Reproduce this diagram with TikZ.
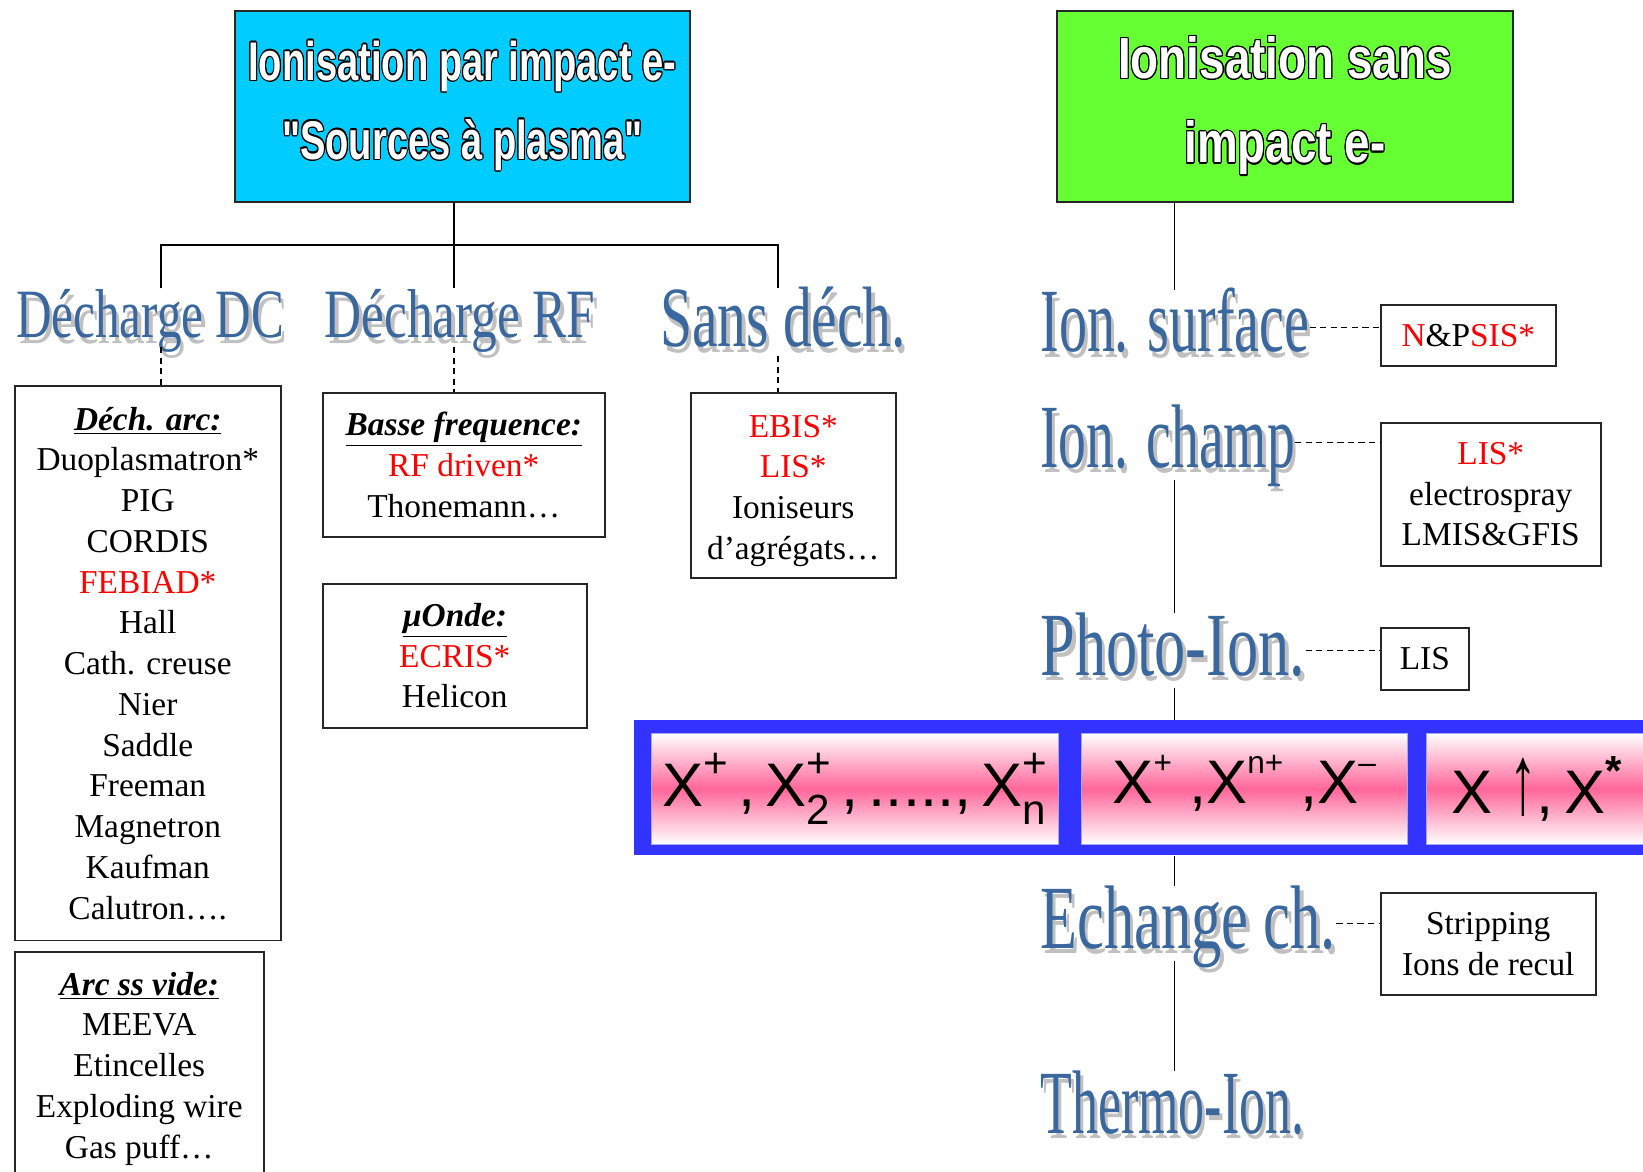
\documentclass[tikz,border=0pt]{standalone}
\usepackage{fontspec}
\setmainfont{Liberation Serif}
\newfontfamily\artfont{Liberation Sans}
\usepackage{contour}
\contourlength{0.8pt}
\definecolor{headblue}{RGB}{58,104,158}
\definecolor{shadowgray}{RGB}{192,192,192}
\definecolor{plasmablue}{RGB}{0,204,255}
\definecolor{nonegreen}{RGB}{102,255,51}
\definecolor{bandblue}{RGB}{51,51,255}
\definecolor{bandpink}{RGB}{255,102,153}
\definecolor{srcred}{RGB}{255,0,0}
\newcommand{\hd}[2]{\scalebox{#1}[1]{\rlap{\kern3pt\raisebox{-3pt}{\color{shadowgray}#2}}\color{headblue}#2}}
\newcommand{\wordart}[2]{\scalebox{#1}[1]{\contour{black}{#2}}}
\newcommand{\rt}[1]{\textcolor{srcred}{#1}}
\newcommand{\ttl}[1]{\underline{\textbf{\textit{#1}}}}
\newcommand{\ionx}[3]{X\hbox{\ooalign{\raisebox{0.48em}{\fontsize{#1}{#1}\selectfont#2}\cr\raisebox{-0.3em}{\fontsize{#1}{#1}\selectfont#3}\cr}}}

\begin{document}
\begin{tikzpicture}[x=0.02cm, y=-0.02cm,
  topbox/.style={draw=black!85, line width=1pt, anchor=north west, inner sep=0pt, align=center, text=white, minimum width=9.1cm, minimum height=3.82cm},
  listbox/.style={draw=black!85, line width=0.9pt, fill=white, anchor=north west, inner sep=5pt, align=center, font=\fontsize{19}{23.2}\selectfont},
  headL/.style={inner sep=0pt, anchor=base, text height=28pt, text depth=5pt, font=\fontsize{39.4}{40}\selectfont},
  headR/.style={inner sep=0pt, anchor=base west, text height=35pt, text depth=7pt, font=\fontsize{51.4}{52}\selectfont},
  cell/.style={draw=blue!35, anchor=north west, inner sep=0pt, minimum height=2.22cm, top color=white, bottom color=white, middle color=bandpink, font=\artfont\fontsize{35}{40}\selectfont},
  link/.style={line width=0.8pt},
  dotlink/.style={line width=0.8pt, dash pattern=on 3.5pt off 2.5pt}]
\useasboundingbox (0,0) rectangle (1643,1172);

\node[topbox, fill=plasmablue, font=\artfont\bfseries\fontsize{31}{44.8}\selectfont] (topL) at (234,10)
  {\wordart{0.70}{Ionisation par impact e-}\\\wordart{0.70}{"Sources à plasma"}};
\node[topbox, fill=nonegreen, minimum width=9.12cm, font=\artfont\bfseries\fontsize{33}{48}\selectfont] (topR) at (1056,10)
  {\wordart{0.79}{Ionisation sans}\\\wordart{0.79}{impact e-}};

\node[headL] (dc) at (150,338) {\hd{0.71}{Décharge DC}};
\node[headL] (rf) at (460,338) {\hd{0.74}{Décharge RF}};
\node[headL, text height=33.5pt, font=\fontsize{48.8}{50}\selectfont] (sans) at (783,347) {\hd{0.67}{Sans déch.}};
\foreach \n/\y/\s/\t in {surf/352/0.62/Ion. surface, champ/467/0.615/Ion. champ, photo/675/0.69/Photo-Ion., echange/948/0.67/Echange ch., thermo/1133/0.575/Thermo-Ion.}
  \node[headR] (\n) at (1040,\y) {\hd{\s}{\t}};

\node[listbox, minimum width=5.32cm, minimum height=11.1cm] (arc) at (14,385)
  {\ttl{Déch. arc:}\\Duoplasmatron*\\PIG\\CORDIS\\\rt{FEBIAD*}\\Hall\\Cath. creuse\\Nier\\Saddle\\Freeman\\Magnetron\\Kaufman\\Calutron….};
\node[listbox, minimum width=4.98cm, inner ysep=11.5pt] (vide) at (14,951)
  {\ttl{Arc ss vide:}\\MEEVA\\Etincelles\\Exploding wire\\Gas puff…\rule[-40pt]{0pt}{1pt}};
\node[listbox, minimum width=5.64cm, minimum height=2.88cm] (basse) at (322,392)
  {\ttl{Basse frequence:}\\\rt{RF driven*}\\Thonemann…};
\node[listbox, minimum width=5.28cm, minimum height=2.88cm] (onde) at (322,583)
  {\ttl{µOnde:}\\\rt{ECRIS*}\\Helicon};
\node[listbox, minimum width=4.1cm, minimum height=3.7cm] (sansbox) at (690,392)
  {\rt{EBIS*}\rule{0pt}{19pt}\\\rt{LIS*}\\Ioniseurs\\d’agrégats…};
\node[listbox, minimum width=3.5cm, minimum height=1.22cm] (npsis) at (1380,304) {\rt{N}\&P\rt{SIS*}};
\node[listbox, minimum width=4.4cm, minimum height=2.86cm] (lisf) at (1380,422) {\rt{LIS*}\\electrospray\\LMIS\&GFIS};
\node[listbox, minimum width=1.76cm, minimum height=1.24cm] (lisp) at (1380,627) {LIS};
\node[listbox, minimum width=4.3cm, minimum height=2.04cm] (strip) at (1380,892) {Stripping\\Ions de recul};

\node[fill=bandblue, anchor=north west, inner sep=0pt, minimum width=21.4cm, minimum height=2.7cm] (band) at (634,720) {};
\node[cell, minimum width=8.14cm] (c1) at (651,733) {\ionx{24}{+}{}\,,\,\ionx{24}{+}{2}\,,\,.....,\,\ionx{24}{+}{n}};
\node[cell, minimum width=6.52cm] (c2) at (1081,733) {\ionx{18}{+}{}\ ,\ionx{18}{n+}{}\ ,\ionx{18}{–}{}};
\node[cell, minimum width=4.4cm] (c3) at (1426,733) {X\ \scalebox{0.9}[1.6]{↑},\,X\raisebox{0.45em}{\fontsize{24}{24}\selectfont\bfseries*}};

\coordinate (jdc) at (161,245);
\coordinate (jrf) at (454,245);
\coordinate (jsans) at (778,245);
\coordinate (spine) at (1174.5,0);
\draw[link] (topL.south -| jrf) -- (jrf |- rf.north);
\draw[link] (jdc |- dc.north) |- (jsans) -- (jsans |- sans.north);
\foreach \h/\j/\b in {dc/jdc/arc, rf/jrf/basse, sans/jsans/sansbox}
  \draw[dotlink] (\j |- \h.south) -- (\j |- \b.north);
\draw[link] (topR.south -| spine) -- (spine |- surf.north);
\foreach \a/\b in {champ/photo, photo/band, band/echange, echange/thermo}
  \draw[link] (spine |- \a.south) -- (spine |- \b.north);
\foreach \h/\b in {surf/npsis, champ/lisf, photo/lisp, echange/strip}
  \draw[dotlink] (\h.east) -- (\h.east -| \b.west);
\end{tikzpicture}
\end{document}
